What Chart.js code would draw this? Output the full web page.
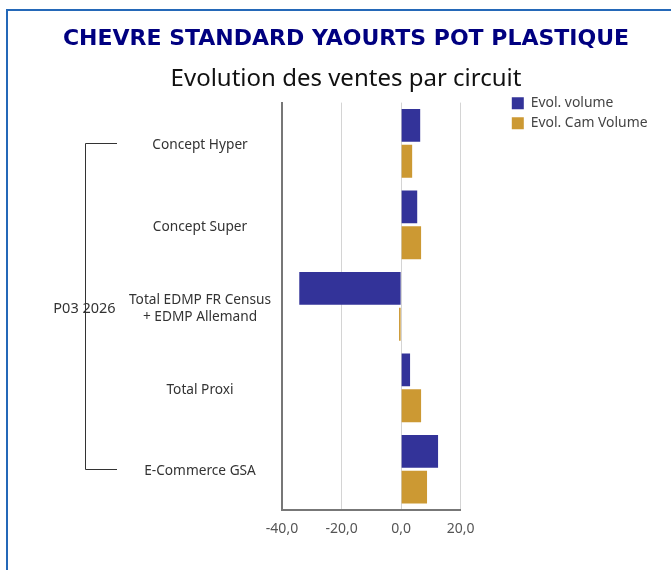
<!DOCTYPE html>
<html>
<head>
<meta charset="utf-8">
<script src="https://cdn.jsdelivr.net/npm/chart.js@4.4.1/dist/chart.umd.min.js"></script>
<style>
  html, body { margin: 0; padding: 0; width: 671px; height: 570px; overflow: hidden; background: #fff; }
  #frame { position: absolute; left: 6px; top: 9px; width: 720px; height: 620px; border: 2px solid #2468b8; box-sizing: border-box; }
  #c { position: absolute; left: 8px; top: 12px; }
</style>
</head>
<body>
<div id="frame"></div>
<canvas id="c" width="678" height="558"></canvas>
<script>
const titleText = 'CHEVRE STANDARD YAOURTS POT PLASTIQUE';
const subtitleText = 'Evolution des ventes par circuit';
const groupLabel = 'P03 2026';
const categories = ['Concept Hyper', 'Concept Super', ['Total EDMP FR Census', '+ EDMP Allemand'], 'Total Proxi', 'E-Commerce GSA'];
const seriesNames = ['Evol. volume', 'Evol. Cam Volume'];
const evolVolume = [6.4, 5.4, -34.2, 3.0, 12.4];
const evolCamVolume = [3.7, 6.7, -0.7, 6.7, 8.7];
const xMin = -40, xMax = 20, xStep = 20;

const FONT = '"Noto Sans", sans-serif';
const CAT_SIZE = 13.7;
const LEG_SIZE = 13.9;
const LEG_PAD = 6.1;
const GAP_AXIS = 45;
const labelFont = { family: FONT, size: CAT_SIZE, lineHeight: 1.25 };

const mctx = document.createElement('canvas').getContext('2d');
mctx.font = CAT_SIZE + 'px ' + FONT;
let widest = 0;
categories.forEach(c => (Array.isArray(c) ? c : [c]).forEach(l => { widest = Math.max(widest, mctx.measureText(l).width); }));
const yTickPad = Math.max(2, 82 - widest / 2);

// legend natural width (as Chart.js computes it) so the plot area lands where wanted
mctx.font = LEG_SIZE + 'px ' + FONT;
let legText = 0;
seriesNames.forEach(n => { legText = Math.max(legText, mctx.measureText(n).width); });
const legW = LEG_PAD + 12 + LEG_SIZE / 2 + legText + 10;
const chartRight = 452.7;
const padR = 678 - chartRight - GAP_AXIS - legW;
const padL = 676 - (chartRight + GAP_AXIS + legW);

const bracketPlugin = {
  id: 'bracket',
  afterDraw(chart) {
    const ys = chart.scales.y;
    const ctx = chart.ctx;
    const y0 = Math.round(ys.getPixelForValue(0));
    const y1 = Math.round(ys.getPixelForValue(categories.length - 1));
    const xv = 77.5, xh = 109;
    ctx.save();
    ctx.strokeStyle = '#333';
    ctx.lineWidth = 1;
    ctx.beginPath();
    ctx.moveTo(xh, y0 + 0.5); ctx.lineTo(xv, y0 + 0.5);
    ctx.lineTo(xv, y1 + 0.5); ctx.lineTo(xh, y1 + 0.5);
    ctx.stroke();
    ctx.font = '14.5px ' + FONT;
    ctx.fillStyle = '#333';
    ctx.textAlign = 'center';
    ctx.textBaseline = 'middle';
    ctx.fillText(groupLabel, 76.5, (y0 + y1) / 2 + 2.5);
    ctx.restore();
  }
};

new Chart(document.getElementById('c'), {
  type: 'bar',
  data: {
    labels: categories,
    datasets: [
      { label: seriesNames[0], data: evolVolume, backgroundColor: '#333399', borderWidth: 0,
        barPercentage: 0.917, categoryPercentage: 0.88 },
      { label: seriesNames[1], data: evolCamVolume, backgroundColor: '#CC9933', borderWidth: 0,
        barPercentage: 0.917, categoryPercentage: 0.88 }
    ]
  },
  options: {
    indexAxis: 'y',
    responsive: false,
    animation: false,
    devicePixelRatio: 1,
    layout: { padding: { left: padL, right: padR, top: 0, bottom: 30 } },
    plugins: {
      title: {
        display: true, text: titleText, color: '#000080',
        font: { family: '"DejaVu Sans", sans-serif', size: 22, weight: 'bold', lineHeight: 1.2 },
        padding: { top: 13.8, bottom: 0 }
      },
      subtitle: {
        display: true, text: subtitleText, color: '#111',
        font: { family: FONT, size: 24, weight: 'normal', lineHeight: 1.2 },
        padding: { top: 12.4, bottom: 9.2 }
      },
      legend: {
        position: 'right', align: 'start', maxWidth: 400,
        title: { display: true, text: ' ', font: { size: 10, lineHeight: 1.2 }, padding: { top: 66.2, bottom: 0 } },
        labels: { boxWidth: 12, boxHeight: 12, padding: LEG_PAD, color: '#444', font: { family: FONT, size: LEG_SIZE } }
      },
      tooltip: { enabled: false }
    },
    scales: {
      x: {
        type: 'linear', min: xMin, max: xMax,
        afterFit: s => { s.height = 30; },
        ticks: { stepSize: xStep, color: '#555', padding: 11, font: { family: FONT, size: 14 },
          callback: v => v.toFixed(1).replace('.', ',') },
        grid: { color: '#d4d4d4', lineWidth: 1, drawTicks: false },
        border: { display: true, color: '#777', width: 2 }
      },
      y: {
        type: 'category',
        afterFit: s => { s.width = 274 - padL; },
        ticks: { crossAlign: 'center', padding: yTickPad, labelOffset: 2, color: '#333', font: labelFont },
        grid: { display: false, drawTicks: false },
        border: { display: true, color: '#777', width: 2 }
      },
      y2: {
        type: 'linear', position: 'right', display: true,
        afterFit: s => { s.width = GAP_AXIS; },
        ticks: { display: false },
        grid: { display: false, drawTicks: false },
        border: { display: false }
      }
    }
  },
  plugins: [bracketPlugin]
});
</script>
</body>
</html>
